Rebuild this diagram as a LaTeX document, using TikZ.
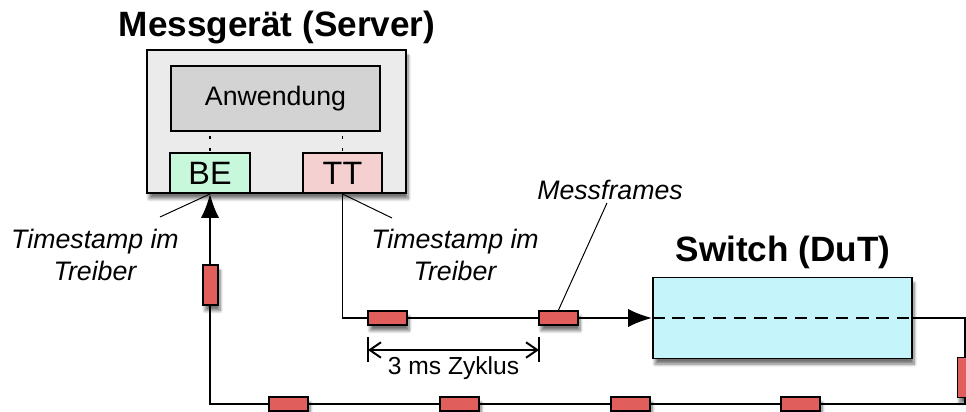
\documentclass[tikz,border=0pt]{standalone}
\usepackage{fontspec}
\setmainfont{Liberation Sans}
\usetikzlibrary{arrows.meta,shadows.blur}

\definecolor{srvgray}{HTML}{EBEBEB}
\definecolor{appgray}{HTML}{D3D3D3}
\definecolor{begreen}{HTML}{C8F8DC}
\definecolor{ttrose}{HTML}{F5D0D1}
\definecolor{dutcyan}{HTML}{C5F5FB}
\definecolor{framered}{HTML}{E05E5C}

\begin{document}
\begin{tikzpicture}[x=0.025cm, y=-0.025cm,
        box/.style={draw, line width=1.4pt, inner sep=0pt},
        shade/.style={blur shadow={shadow xshift=1.5pt, shadow yshift=-4pt, shadow blur steps=10, shadow opacity=55}},
        hframe/.style={box, fill=framered, minimum width=39*\px, minimum height=14*\px, shade},
        vframe/.style={box, fill=framered, minimum width=15*\px, minimum height=40*\px, shade},
        wire/.style={line width=1.4pt},
        tip/.style={-{Latex[length=17pt,width=13pt]}},
        note/.style={font=\fontsize{19}{23}\selectfont\itshape, align=center},
        tag/.style={line width=0.7pt},
        heading/.style={font=\fontsize{25}{30}\selectfont\bfseries}]
        %
        \def\px{0.025cm}
        \useasboundingbox (0,0) rectangle (966,412);

        %
        \node[box, fill=srvgray, minimum width=259*\px, minimum height=143*\px, shade] (server) at (276.5,121.5) {};
        \node[box, fill=appgray, minimum width=209*\px, minimum height=65*\px, font=\fontsize{19}{23}\selectfont] (app) at (275.5,98.5) {Anwendung};
        \node[box, fill=begreen, minimum width=80*\px, minimum height=40*\px, font=\fontsize{23}{27}\selectfont] (be) at (210,173) {BE};
        \node[box, fill=ttrose, minimum width=79*\px, minimum height=40*\px, font=\fontsize{23}{27}\selectfont] (tt) at (342.5,173) {TT};
        \node[heading] (srvtitle) at (277,27) {Messgerät (Server)};

        \draw[wire, dash pattern=on 1.8pt off 6.7pt, dash phase=-3pt] (app.south -| be) -- (be.north);
        \draw[wire, dash pattern=on 1.8pt off 6.7pt, dash phase=-3pt] (app.south -| tt) -- (tt.north);

        %
        \node[box, fill=dutcyan, minimum width=259*\px, minimum height=81*\px, shade] (switch) at (782.5,318) {};
        \node[heading] (swtitle) at (783,252) {Switch (DuT)};
        \draw[wire, dash pattern=on 9pt off 5.5pt] (switch.west) -- (switch.east);

        %
        \coordinate (rt) at (965,318);
        \coordinate (rb) at (965,404);
        \coordinate (lb) at (210,404);

        \draw[wire, tip] (tt.south) |- (switch.west);
        \draw[wire, tip] (switch.east) -- (rt) -- (rb) -- (lb) -- (be.south);

        %
        \node[hframe] (f1) at (387.5,318) {};
        \node[hframe] (f2) at (558.5,318) {};
        \node[vframe] (f3) at (210.5,285) {};
        \node[hframe] (f4) at (288.5,404) {};
        \node[hframe] (f5) at (459.5,404) {};
        \node[hframe] (f6) at (630.5,404) {};
        \node[hframe] (f7) at (800.5,404) {};
        \node[vframe] (f8) at (965,377.5) {};

        %
        \node[note] (ts1) at (95,255) {Timestamp im\\Treiber};
        \node[note] (ts2) at (455,255) {Timestamp im\\Treiber};
        \node[note] (mf) at (610,190) {Messframes};
        \coordinate (ts1tip) at (160,217);
        \coordinate (ts2tip) at (392,218);
        \coordinate (mftip) at (607,203);
        \draw[tag] (ts1tip) -- (be.south);
        \draw[tag] (ts2tip) -- (tt.south);
        \draw[tag] (mftip) -- (f2.north);

        %
        \coordinate (d1) at (368,350);
        \coordinate (d2) at (539,350);
        \draw[wire] (368,337) -- (368,362);
        \draw[wire] (539,337) -- (539,362);
        \draw[wire, {Straight Barb[length=8pt,width=11pt]}-{Straight Barb[length=8pt,width=11pt]}] (d1) -- (d2)
            node[midway, below=1pt, font=\fontsize{17.5}{21}\selectfont] (cyc) {3 ms Zyklus};
\end{tikzpicture}
\end{document}
